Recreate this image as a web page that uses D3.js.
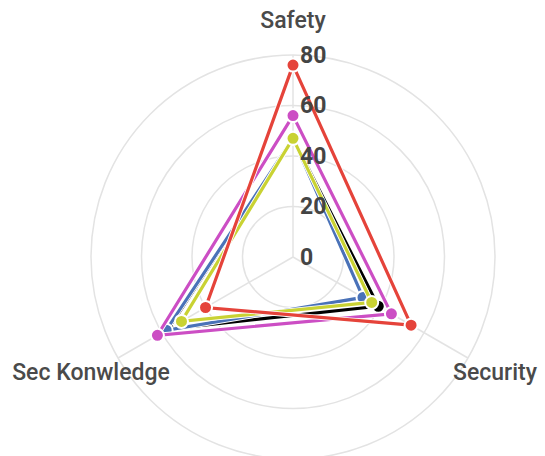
<!DOCTYPE html>
<html><head><meta charset="utf-8">
<script src="https://cdn.jsdelivr.net/npm/d3@7"></script>
<style>html,body{margin:0;padding:0;background:#fff;}svg{display:block;}</style>
</head><body>
<svg id="chart" width="545" height="456"></svg>
<script>
const axes = ["Safety", "Security", "Sec Konwledge"];
const ticks = [0, 20, 40, 60, 80];
const seriesNames = ["Series 1", "Series 2", "Series 3", "Series 4", "Series 5"];
const seriesColors = ["#000000", "#4a72b8", "#c9d233", "#cc4ec4", "#e5433a"];
const blackValues = [47, 39, 57];
const blueValues = [47, 32, 58];
const yellowValues = [47, 36, 51];
const magentaValues = [56, 45, 62];
const redValues = [76, 54, 40];
const seriesValues = [blackValues, blueValues, yellowValues, magentaValues, redValues];

const svg = d3.select("#chart");
const cx = 293, cy = 257;
const r = d3.scaleLinear().domain([0, 80]).range([0, 202]);
const ang = d3.scalePoint().domain(axes).range([0, 2 * Math.PI * 2 / 3]);
const pt = (axis, v) => {
  const a = ang(axis);
  return [cx + r(v) * Math.sin(a), cy - r(v) * Math.cos(a)];
};

const g = svg.append("g");
g.selectAll("circle.ring").data(ticks.slice(1)).join("circle")
  .attr("cx", cx).attr("cy", cy).attr("r", d => r(d))
  .attr("fill", "none").attr("stroke", "#e3e3e3").attr("stroke-width", 1.5);
g.selectAll("line.spoke").data(axes).join("line")
  .attr("x1", cx).attr("y1", cy)
  .attr("x2", d => pt(d, 80)[0]).attr("y2", d => pt(d, 80)[1])
  .attr("stroke", "#e3e3e3").attr("stroke-width", 1.5);

const labelPos = {"Safety": [293, 20], "Security": [495, 372], "Sec Konwledge": [91, 372]};
g.selectAll("text.axis").data(axes).join("text")
  .attr("x", d => labelPos[d][0]).attr("y", d => labelPos[d][1])
  .attr("text-anchor", "middle").attr("dominant-baseline", "central")
  .attr("font-family", "Roboto").attr("font-size", 23).attr("font-weight", 500)
  .attr("fill", "#4a4a4a").text(d => d);

const line = d3.line().curve(d3.curveLinearClosed);
seriesValues.forEach((vals, i) => {
  const pts = axes.map((a, j) => pt(a, vals[j]));
  const sg = svg.append("g").attr("class", "series").attr("data-name", seriesNames[i]);
  sg.append("path").attr("d", line(pts)).attr("fill", "none")
    .attr("stroke", "#fff").attr("stroke-width", 5).attr("stroke-linejoin", "miter");
  sg.append("path").attr("d", line(pts)).attr("fill", "none")
    .attr("stroke", seriesColors[i]).attr("stroke-width", 3.2).attr("stroke-linejoin", "miter");
  sg.selectAll("circle").data(pts).join("circle")
    .attr("cx", d => d[0]).attr("cy", d => d[1]).attr("r", 6.5)
    .attr("fill", seriesColors[i]).attr("stroke", "#fff").attr("stroke-width", 2);
});

svg.append("g").selectAll("text").data(ticks).join("text")
  .attr("x", 300).attr("y", d => cy - r(d))
  .attr("dominant-baseline", "central")
  .attr("font-family", "Roboto").attr("font-size", 23).attr("font-weight", 700)
  .attr("fill", "#444").text(d => d);
</script>
</body></html>
